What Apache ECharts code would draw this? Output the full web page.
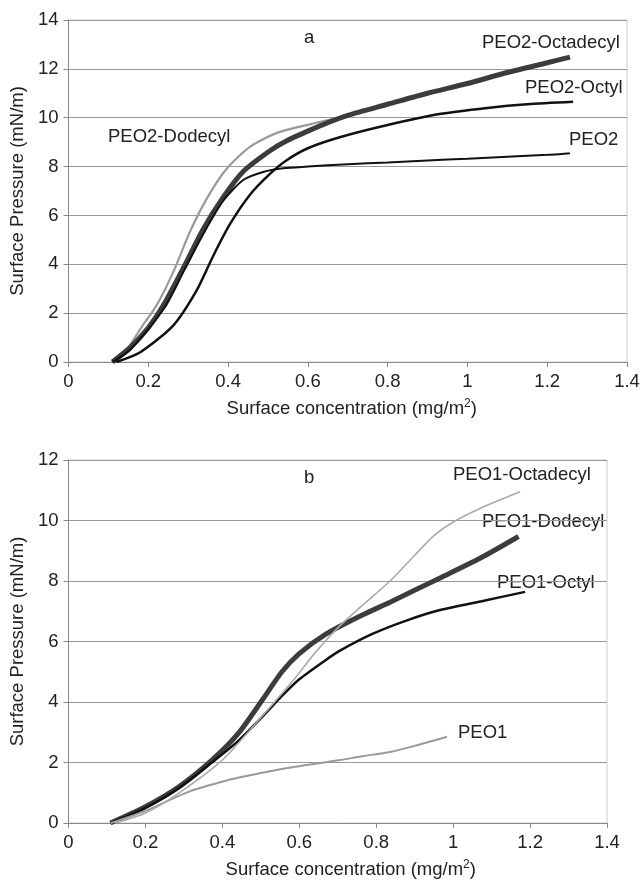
<!DOCTYPE html>
<html>
<head>
<meta charset="utf-8">
<script src="https://cdn.jsdelivr.net/npm/echarts@6/dist/echarts.min.js"></script>
<style>
  html, body { margin: 0; padding: 0; background: #fff; }
  #main { width: 643px; height: 881px; }
</style>
</head>
<body>
<div id="main"></div>
<script>
// axis ticks
const xTicks = [0, 0.2, 0.4, 0.6, 0.8, 1, 1.2, 1.4];
const yTicksA = [0, 2, 4, 6, 8, 10, 12, 14];
const yTicksB = [0, 2, 4, 6, 8, 10, 12];

// panel a: [surface concentration, surface pressure]
const peo2Dodecyl = [[0.11,0],[0.15,0.6],[0.18,1.35],[0.222,2.35],[0.263,3.7],[0.305,5.35],[0.347,6.7],[0.396,7.9],[0.454,8.8],[0.526,9.4],[0.61,9.75],[0.69,10.05],[0.75,10.3]];
const peo2Octadecyl = [[0.11,0],[0.155,0.6],[0.2,1.4],[0.239,2.35],[0.288,3.85],[0.338,5.45],[0.388,6.75],[0.438,7.8],[0.505,8.65],[0.546,9.05],[0.6,9.45],[0.65,9.8],[0.7,10.1],[0.8,10.55],[0.9,11.0],[1.0,11.4],[1.1,11.85],[1.2,12.25],[1.257,12.48]];
const peo2 = [[0.11,0],[0.155,0.5],[0.24,2.2],[0.29,3.75],[0.34,5.3],[0.388,6.6],[0.438,7.45],[0.488,7.78],[0.538,7.93],[0.6,8.0],[0.7,8.1],[0.8,8.17],[0.9,8.25],[1.0,8.32],[1.1,8.4],[1.2,8.48],[1.257,8.55]];
const peo2Octyl = [[0.12,0],[0.18,0.4],[0.263,1.5],[0.322,2.95],[0.363,4.35],[0.405,5.65],[0.455,6.85],[0.505,7.7],[0.546,8.25],[0.6,8.75],[0.68,9.2],[0.8,9.7],[0.93,10.15],[1.05,10.4],[1.15,10.55],[1.265,10.65]];

// panel b
const peo1Octadecyl = [[0.12,0],[0.2,0.33],[0.287,0.99],[0.4,2.08],[0.477,3.15],[0.546,4.15],[0.59,4.8],[0.636,5.55],[0.7,6.45],[0.76,7.15],[0.836,8.0],[0.9,8.85],[0.95,9.5],[1.0,9.95],[1.07,10.4],[1.174,10.95]];
const peo1Dodecyl = [[0.109,0],[0.2,0.54],[0.287,1.2],[0.373,2.08],[0.442,2.97],[0.503,4.05],[0.555,5.0],[0.6,5.6],[0.67,6.25],[0.76,6.85],[0.836,7.3],[0.966,8.1],[1.07,8.75],[1.17,9.47]];
const peo1Octyl = [[0.11,0],[0.2,0.5],[0.287,1.15],[0.373,2.0],[0.434,2.63],[0.503,3.5],[0.555,4.2],[0.6,4.75],[0.67,5.4],[0.706,5.7],[0.79,6.25],[0.88,6.7],[0.966,7.04],[1.08,7.35],[1.187,7.64]];
const peo1 = [[0.11,0],[0.2,0.4],[0.312,1.03],[0.416,1.42],[0.5,1.65],[0.59,1.86],[0.706,2.08],[0.76,2.2],[0.836,2.35],[0.9,2.55],[0.984,2.85]];

const chart = echarts.init(document.getElementById('main'));
const font = 'Liberation Sans, Arial, sans-serif';
const txt = '#222';

function xAxis(idx, shift) {
  return {
    gridIndex: idx, type: 'value', min: xTicks[0], max: xTicks[xTicks.length - 1], interval: 0.2,
    name: 'Surface concentration (mg/m{sup|2})', nameLocation: 'middle', nameGap: 36,
    nameTextStyle: { color: txt, fontSize: 18.5, fontFamily: font, padding: [0, 0, 0, shift],
      rich: { sup: { fontSize: 12, fontFamily: font, color: txt, padding: [0, 0, 10, 0] } } },
    axisLine: { lineStyle: { color: '#888' } },
    axisTick: { lineStyle: { color: '#888' }, length: 5 },
    axisLabel: { color: txt, fontSize: 18.5, fontFamily: font, margin: 10 },
    splitLine: { show: false }
  };
}
function yAxis(idx, ticks) {
  return {
    gridIndex: idx, type: 'value', min: 0, max: ticks[ticks.length - 1], interval: 2,
    name: 'Surface Pressure (mN/m)', nameLocation: 'middle', nameGap: 38,
    nameTextStyle: { color: txt, fontSize: 18.5, fontFamily: font },
    axisLine: { show: true, lineStyle: { color: '#888' } },
    axisTick: { show: true, lineStyle: { color: '#888' }, length: 5 },
    axisLabel: { color: txt, fontSize: 18.5, fontFamily: font, margin: 10 },
    splitLine: { lineStyle: { color: '#999', width: 1.2 } }
  };
}
function line(name, data, idx, color, width) {
  return {
    name, type: 'line', xAxisIndex: idx, yAxisIndex: idx, data,
    smooth: 0.25, showSymbol: false, silent: true,
    lineStyle: { color, width }
  };
}
function label(text, left, top) {
  return { type: 'text', left, top, style: { text, fill: txt, font: '18.5px ' + font } };
}

const option = {
  backgroundColor: '#fff',
  animation: false,
  grid: [
    { left: 66, top: 20, width: 561, height: 342, show: true, borderColor: '#ccc', borderWidth: 1 },
    { left: 68, top: 460, width: 539, height: 363, show: true, borderColor: '#ccc', borderWidth: 1 }
  ],
  xAxis: [xAxis(0, 8), xAxis(1, 26)],
  yAxis: [yAxis(0, yTicksA), yAxis(1, yTicksB)],
  series: [
    line('PEO2-Dodecyl', peo2Dodecyl, 0, '#9a9a9a', 2.2),
    line('PEO2-Octadecyl', peo2Octadecyl, 0, '#3c3c3c', 5),
    line('PEO2', peo2, 0, '#111', 2),
    line('PEO2-Octyl', peo2Octyl, 0, '#111', 2.5),
    line('PEO1-Dodecyl', peo1Dodecyl, 1, '#3c3c3c', 5),
    line('PEO1-Octyl', peo1Octyl, 1, '#111', 2.5),
    line('PEO1', peo1, 1, '#9a9a9a', 2),
    line('PEO1-Octadecyl', peo1Octadecyl, 1, '#aaa', 1.6)
  ],
  graphic: [
    label('a', 304, 28),
    label('PEO2-Octadecyl', 482, 33),
    label('PEO2-Octyl', 525, 78),
    label('PEO2', 569, 130),
    label('PEO2-Dodecyl', 108, 127),
    label('b', 304, 468),
    label('PEO1-Octadecyl', 453, 465),
    label('PEO1-Dodecyl', 482, 512),
    label('PEO1-Octyl', 497, 573),
    label('PEO1', 458, 723)
  ]
};
chart.setOption(option);
</script>
</body>
</html>
